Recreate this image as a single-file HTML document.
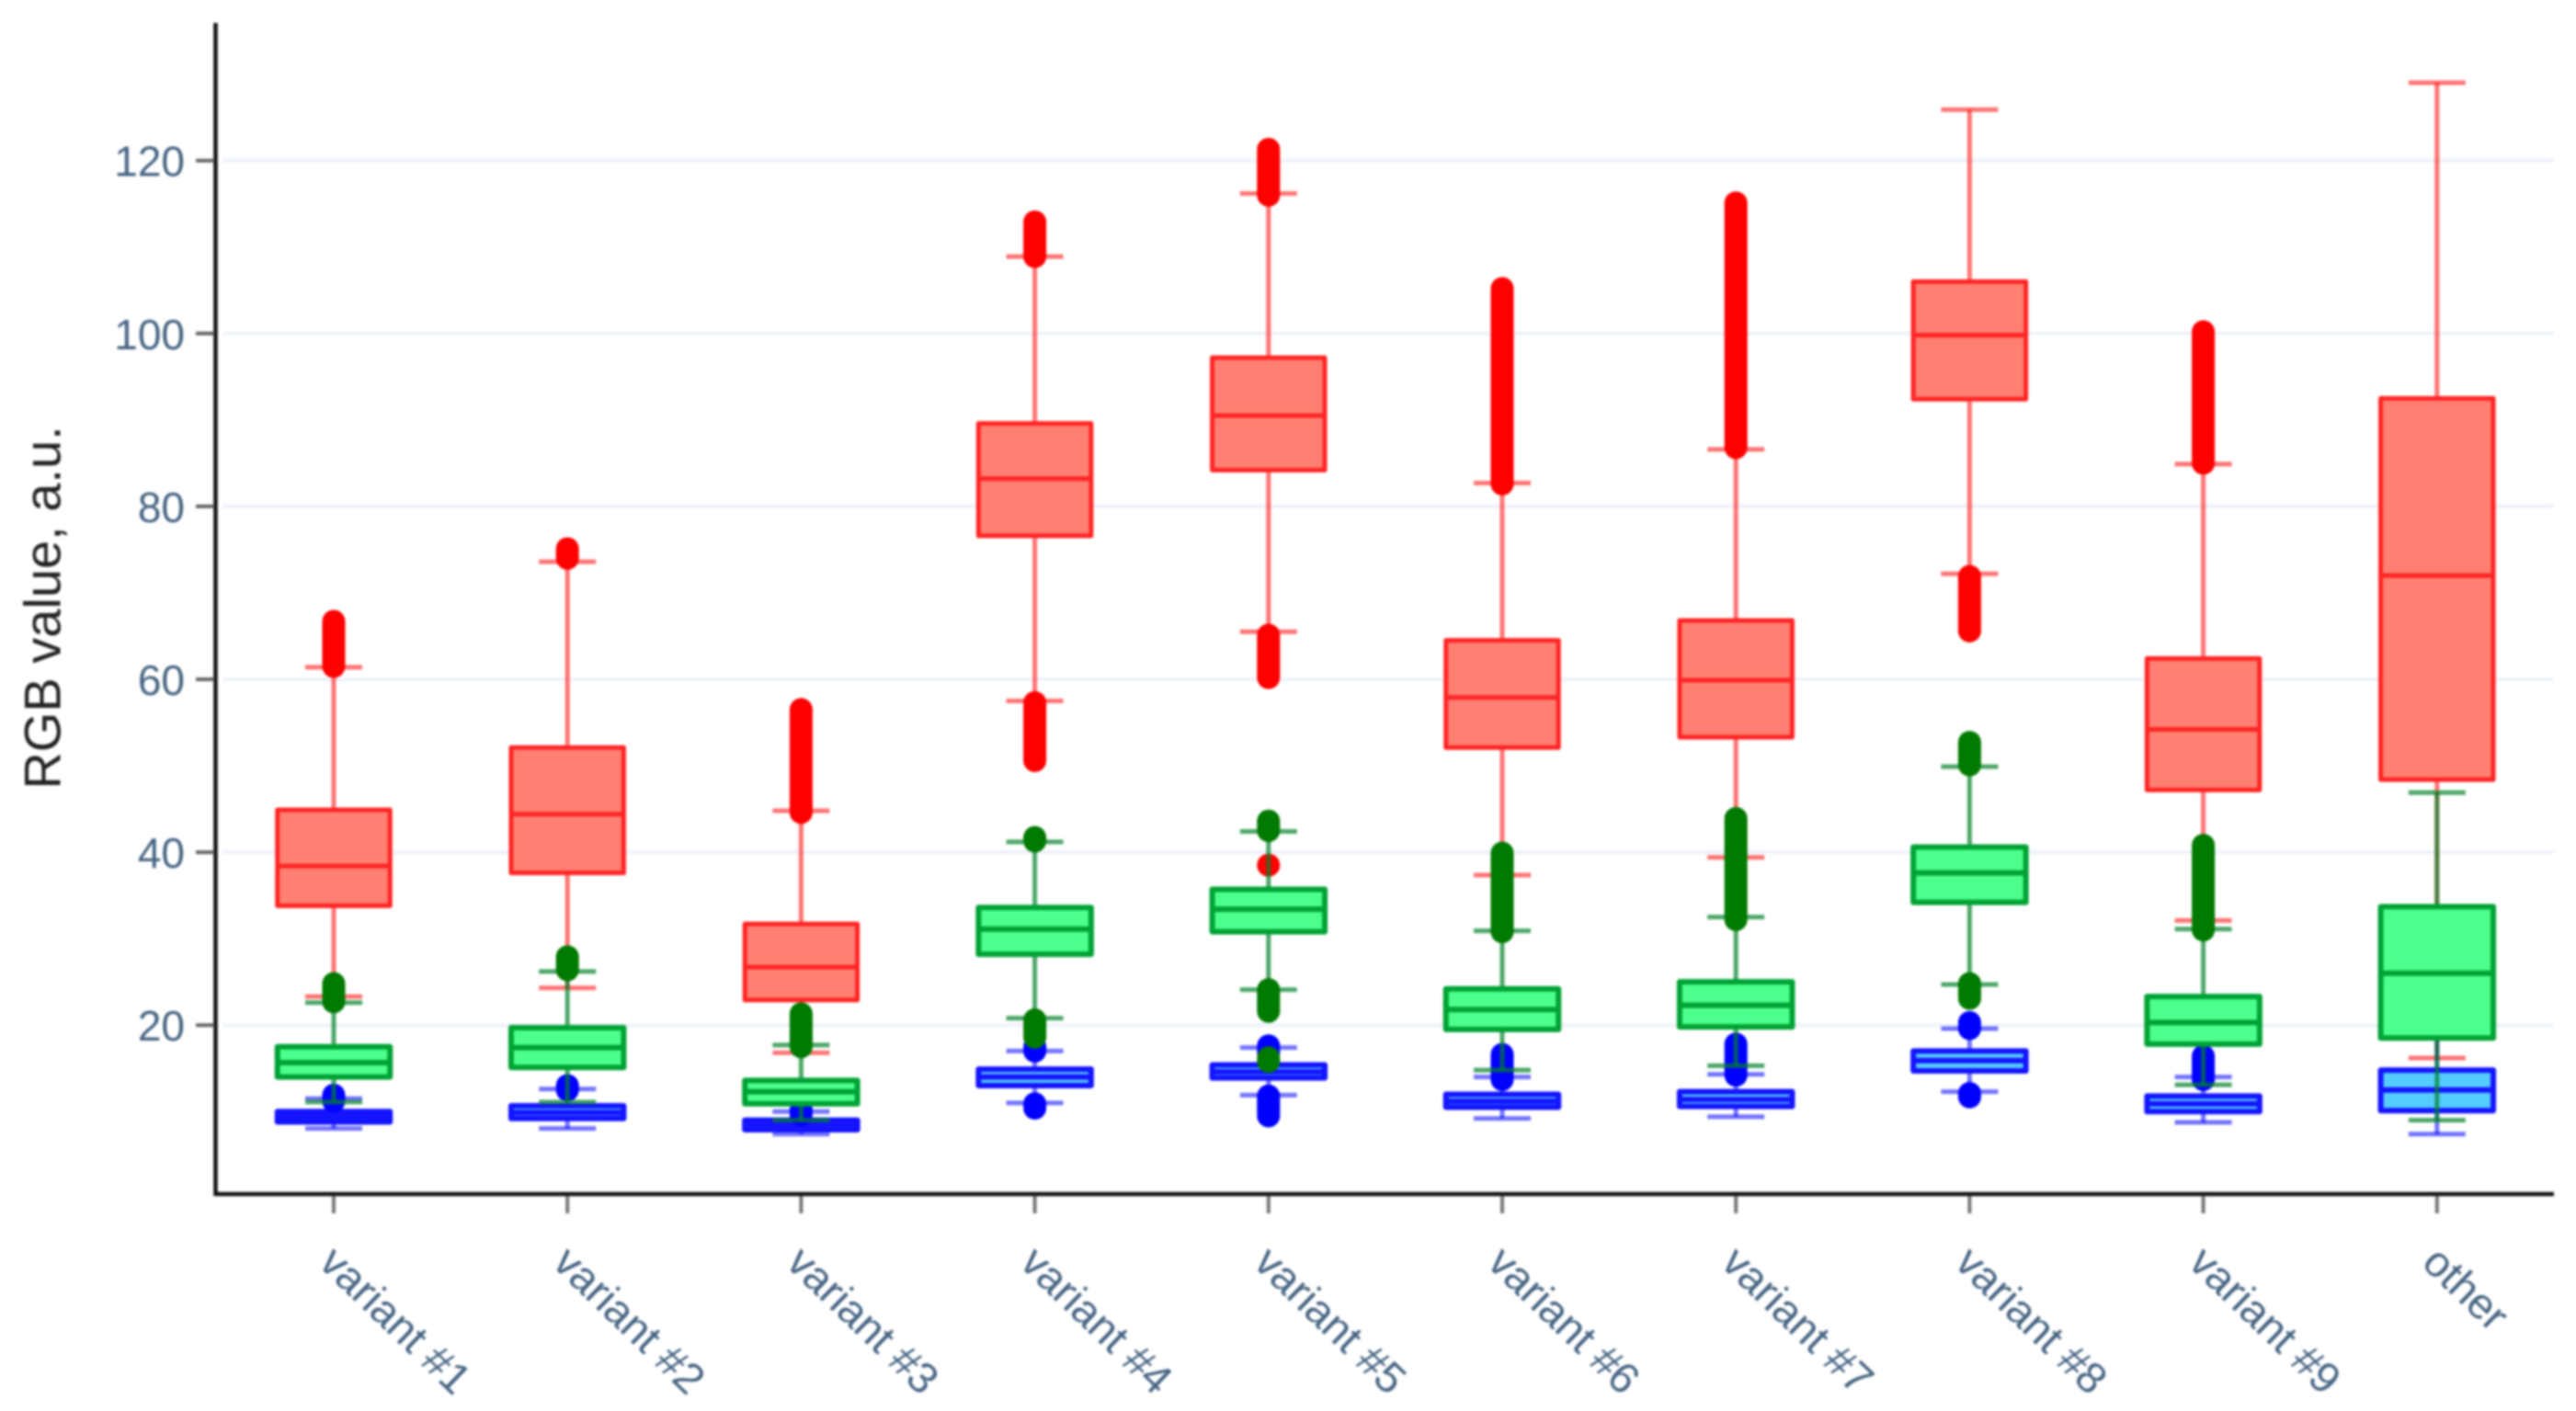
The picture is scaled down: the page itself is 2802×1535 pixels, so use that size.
<!DOCTYPE html>
<html lang="en">
<head>
<meta charset="utf-8">
<title>RGB value box plot</title>
<style>
html,body{margin:0;padding:0;background:#fff;width:2802px;height:1535px;overflow:hidden}
svg{display:block;filter:blur(1.2px);font-family:"Liberation Sans",sans-serif}
</style>
</head>
<body>
<svg id="chart" xmlns="http://www.w3.org/2000/svg" width="2802" height="1535" viewBox="0 0 2802 1535">
  <g id="grid"></g>
  <g id="marks"></g>
  <line x1="234.5" y1="25" x2="234.5" y2="1301" stroke="#111" stroke-width="4.5"/>
  <line x1="233" y1="1299" x2="2778" y2="1299" stroke="#111" stroke-width="4.5"/>
  <g id="yaxis"></g>
  <g id="xaxis"></g>
  <text transform="translate(65.5 661) rotate(-90)" text-anchor="middle" font-size="56" fill="#222">RGB value, a.u.</text>
</svg>
<script>
const categories = ["variant #1","variant #2","variant #3","variant #4","variant #5","variant #6","variant #7","variant #8","variant #9","other"];
const yTicks = [20,40,60,80,100,120];

const redLower = [23.3,24.3,16.8,57.5,65.5,37.35,39.4,72.2,32.1,16.2];
const redQ1 = [33.8,37.6,22.9,76.6,84.2,52.1,53.3,92.4,47.2,48.4];
const redMedian = [38.4,44.4,26.7,83.2,90.5,57.9,59.9,99.8,54.2,72];
const redQ3 = [44.9,52.1,31.7,89.6,97.2,64.5,66.8,106,62.4,92.5];
const redUpper = [61.4,73.6,44.8,108.9,116.2,82.7,86.6,125.9,84.9,129];
const redOutliers = [[[61.5,66.7]],[[74,75.1]],[[44.6,56.5]],[[108.9,112.9],[50.6,57.3]],[[116,121.3],[60.2,65.1],[38.5,38.5]],[[82.6,105.2]],[[86.8,115.1]],[[65.6,71.9]],[[85,100.2]],[]];

const greenLower = [11.1,11.1,9.0,20.8,24.1,14.8,15.3,24.7,13.1,9.0];
const greenQ1 = [14,15.1,10.9,28.2,30.8,19.5,19.8,34.2,17.8,18.5];
const greenMedian = [15.66,17.4,12.3,31.1,33.4,21.8,22.3,37.6,20.3,26];
const greenQ3 = [17.5,19.7,13.6,33.6,35.7,24.2,25,40.6,23.3,33.7];
const greenUpper = [22.6,26.2,17.7,41.2,42.4,30.9,32.5,49.9,31.1,46.9];
const greenOutliers = [[[22.7,24.8]],[[26.4,27.9]],[[17.5,21.3]],[[41.3,41.7],[18.6,20.6]],[[42.5,43.6],[21.6,24.1],[15.8,16.2]],[[30.8,39.9]],[[32.2,43.9]],[[50.1,52.7],[23.1,24.8]],[[31,40.8]],[]];

const blueLower = [8.05,8.05,7.4,11,11.9,9.2,9.4,12.3,8.75,7.4];
const blueQ1 = [8.8,9.2,7.9,13,13.9,10.5,10.6,14.7,10,10.1];
const blueMedian = [9.4,9.9,8.4,14,14.6,11.2,11.4,15.9,10.9,12.5];
const blueQ3 = [10,10.66,9,14.9,15.4,12,12.3,17,11.8,14.8];
const blueUpper = [11.5,12.6,10,17,17.4,14,14.3,19.6,14,21];
const blueOutliers = [[[11.2,11.9]],[[12.5,13]],[[9.6,10.2]],[[17,17.5],[10.4,10.9]],[[16.8,17.6],[9.5,11.8]],[[13.7,16.6]],[[14.2,17.8]],[[19.6,20.3],[11.7,12.1]],[[13.7,16.4]],[]];

function xScale(i){ return 363 + 254.2 * i; }
function yScale(v){ return 739 + (60 - v) * 9.405; }

const NS = "http://www.w3.org/2000/svg";
function make(parent, tag, attrs){
  const el = document.createElementNS(NS, tag);
  for (const k in attrs) el.setAttribute(k, attrs[k]);
  parent.appendChild(el);
  return el;
}

const BOX_W = 122.5, CAP_W = 62, MARKER_D = 25;

const gridG = document.getElementById("grid");
const yAxisG = document.getElementById("yaxis");
yTicks.forEach(function(t){
  const y = yScale(t);
  const g = make(gridG, "line", {x1:242, x2:2778, y1:y, y2:y, stroke:"#eef2fa", "stroke-width":4});
  
  
  const tick = make(yAxisG, "line", {x1:213, x2:233, y1:y, y2:y, stroke:"#666", "stroke-width":4});
  
  
  const label = make(yAxisG, "text", {x:201, y:y + 17, "text-anchor":"end", "font-size":46, fill:"#466482"});
  label.textContent = String(t);
  
  
});

const xAxisG = document.getElementById("xaxis");
categories.forEach(function(c, i){
  const x = xScale(i);
  const tick = make(xAxisG, "line", {x1:x, x2:x, y1:1301, y2:1320, stroke:"#777", "stroke-width":4});
  
  
  const label = make(xAxisG, "text", {transform:"translate(" + (x - 18) + " 1376) rotate(44)", "font-size":47, fill:"#466482"});
  label.textContent = c;
  
  
});

const seriesList = [
  {key:"red", lower:redLower, q1:redQ1, median:redMedian, q3:redQ3, upper:redUpper, outliers:redOutliers,
   line:"#ff2424", fill:"#ff8072", whisker:"rgba(255,0,0,0.55)", marker:"#ff0000", width:5},
  {key:"blue", lower:blueLower, q1:blueQ1, median:blueMedian, q3:blueQ3, upper:blueUpper, outliers:blueOutliers,
   line:"#1414ff", fill:"#55ccff", whisker:"rgba(0,0,255,0.55)", marker:"#0000ff", width:6},
  {key:"green", lower:greenLower, q1:greenQ1, median:greenMedian, q3:greenQ3, upper:greenUpper, outliers:greenOutliers,
   line:"#00a234", fill:"#4dff8f", whisker:"rgba(0,130,40,0.7)", marker:"#007a00", width:6}
];

const marksG = document.getElementById("marks");
seriesList.forEach(function(s){
  categories.forEach(function(c, i){
    const x = xScale(i);
    const group = make(marksG, "g", {});
    
    

    const whisker = make(group, "line", {x1:x, x2:x, y1:yScale(s.upper[i]), y2:yScale(s.lower[i]), stroke:s.whisker, "stroke-width":5});
    
    

    [s.upper[i], s.lower[i]].forEach(function(v){
      const cap = make(group, "line", {x1:x - CAP_W / 2, x2:x + CAP_W / 2, y1:yScale(v), y2:yScale(v), stroke:s.whisker, "stroke-width":5});
      
      
    });

    const top = yScale(s.q3[i]), bottom = yScale(s.q1[i]);
    const box = make(group, "rect", {x:x - BOX_W / 2, y:top, width:BOX_W, height:bottom - top, fill:s.fill, stroke:s.line, "stroke-width":s.width, "stroke-linejoin":"round"});
    
    

    const med = make(group, "line", {x1:x - BOX_W / 2, x2:x + BOX_W / 2, y1:yScale(s.median[i]), y2:yScale(s.median[i]), stroke:s.line, "stroke-width":s.width});
    
    

    s.outliers[i].forEach(function(span){
      const y1 = yScale(span[0]), y2 = yScale(span[1]);
      const pill = make(group, "path", {d:"M" + x + " " + y1 + "L" + x + " " + (y2 - 0.01), fill:"none", stroke:s.marker, "stroke-width":MARKER_D, "stroke-linecap":"round"});
      
      
    });
  });
});
</script>
</body>
</html>
